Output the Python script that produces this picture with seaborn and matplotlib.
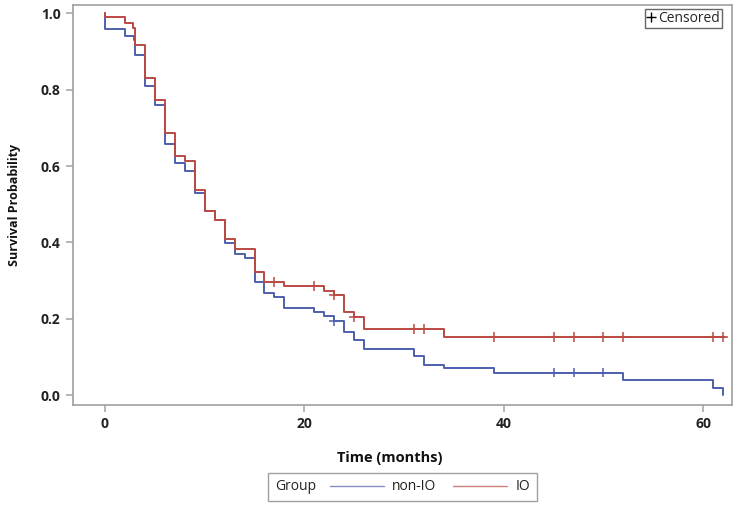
import numpy as np
import pandas as pd
import matplotlib.pyplot as plt
from matplotlib.lines import Line2D
from matplotlib.offsetbox import HPacker
import seaborn as sns

# Set up styling
sns.set_style('ticks')
plt.rcParams['font.family'] = ['Open Sans', 'DejaVu Sans']

# === DATA ===
groups = ['non-IO', 'IO']
colors = ['#4e5fae', '#bb4a44']

nonio_time = [0, 0, 2, 2.9, 3, 4, 5, 6, 7, 8, 9, 10, 11, 12, 13, 14, 15, 16, 17, 18,
              21, 22, 23, 24, 25, 26, 31, 32, 34, 39, 52, 61, 62]
nonio_surv = [1.0, 0.958, 0.942, 0.931, 0.89, 0.809, 0.759, 0.659, 0.609, 0.587, 0.530,
              0.482, 0.458, 0.399, 0.369, 0.358, 0.297, 0.268, 0.257, 0.227, 0.218, 0.207,
              0.194, 0.166, 0.144, 0.122, 0.102, 0.080, 0.070, 0.059, 0.039, 0.018, 0.0]
nonio_censor = [23, 45, 47, 50]

io_time = [0, 0, 2, 2.8, 3, 4, 5, 6, 7, 8, 9, 10, 11, 12, 13, 15, 16, 18, 22, 23, 24, 25,
           26, 34, 62.2]
io_surv = [1.0, 0.99, 0.976, 0.963, 0.916, 0.832, 0.772, 0.687, 0.626, 0.613, 0.538, 0.482,
           0.458, 0.408, 0.384, 0.323, 0.297, 0.286, 0.273, 0.262, 0.218, 0.205, 0.174,
           0.153, 0.153]
io_censor = [17, 21, 23, 25, 31, 32, 39, 45, 47, 50, 52, 61, 62]

x_ticks = [0, 20, 40, 60]
y_ticks = [0.0, 0.2, 0.4, 0.6, 0.8, 1.0]


def surv_at(times, surv, t):
    # value of the step curve right after time t
    idx = np.searchsorted(times, t, side='right') - 1
    return surv[idx]


# Build long-form tables
df = pd.concat([
    pd.DataFrame({'Time': nonio_time, 'Survival': nonio_surv, 'Group': 'non-IO'}),
    pd.DataFrame({'Time': io_time, 'Survival': io_surv, 'Group': 'IO'}),
], ignore_index=True)

df_cens = pd.concat([
    pd.DataFrame({'Time': nonio_censor,
                  'Survival': [surv_at(nonio_time, nonio_surv, t) for t in nonio_censor],
                  'Group': 'non-IO'}),
    pd.DataFrame({'Time': io_censor,
                  'Survival': [surv_at(io_time, io_surv, t) for t in io_censor],
                  'Group': 'IO'}),
], ignore_index=True)

palette = dict(zip(groups, colors))

# === PLOT ===
fig = plt.figure(figsize=(7.4, 5.07), dpi=100)
ax = fig.add_axes([73 / 740, 1 - 405 / 507, 659 / 740, 400 / 507])

sns.lineplot(data=df, x='Time', y='Survival', hue='Group', hue_order=groups,
             palette=palette, drawstyle='steps-post', sort=False, estimator=None,
             legend=False, linewidth=1.4, ax=ax)
sns.scatterplot(data=df_cens, x='Time', y='Survival', hue='Group', hue_order=groups,
                palette=palette, marker='+', s=50, linewidth=1.1, legend=False, ax=ax)

ax.set_xlim(-3.21, 62.9)
ax.set_ylim(-0.026, 1.022)
ax.set_xticks(x_ticks)
ax.set_yticks(y_ticks)
ax.set_yticklabels([f'{v:.1f}' for v in y_ticks])

for side in ['top', 'right', 'bottom', 'left']:
    ax.spines[side].set_color('#a0a0a0')
    ax.spines[side].set_linewidth(1.2)
ax.tick_params(direction='out', length=5, width=1.1, color='#a0a0a0',
               labelsize=10, labelcolor='#222222', pad=4)
for lab in ax.get_xticklabels() + ax.get_yticklabels():
    lab.set_fontweight('bold')

ax.set_xlabel('Time (months)', fontsize=10.5, fontweight='bold', color='#111111')
ax.set_ylabel('Survival Probability', fontsize=9, fontweight='bold', color='#111111')
ax.xaxis.set_label_coords(0.48, -0.115)
ax.yaxis.set_label_coords(-0.079, 0.5)

# Censored marker legend in the corner
cens_leg = ax.legend(handles=[Line2D([], [], marker='+', ls='', color='black',
                                     markersize=7, markeredgewidth=1.0)],
                     labels=['Censored'], loc='upper right',
                     bbox_to_anchor=(722 / 740, 1 - 9 / 507), bbox_transform=fig.transFigure,
                     borderaxespad=0, fancybox=False, edgecolor='#666666', framealpha=1,
                     handlelength=0.6, handletextpad=0.2, borderpad=0.15, fontsize=10)
cens_leg.get_frame().set_linewidth(1.0)

# Group legend at the bottom, title inline with the entries
handles = [Line2D([], [], color=c, linewidth=1.0, alpha=0.7) for c in colors]
leg = fig.legend(handles=handles, labels=groups, title='Group', ncol=2, loc='center',
                 bbox_to_anchor=(402.5 / 740, 1 - 487 / 507), fancybox=False,
                 edgecolor='#a0a0a0', framealpha=1, handlelength=3.9, handletextpad=0.6,
                 columnspacing=1.2, borderpad=0.45, fontsize=10, title_fontsize=10)
leg.get_frame().set_linewidth(1.0)
for t in leg.get_texts():
    t.set_color('#222222')
leg.get_title().set_color('#222222')
old_box = leg._legend_box
title_box, entry_box = old_box.get_children()
new_box = HPacker(pad=old_box.pad, sep=10, align='center', children=[title_box, entry_box])
new_box.set_figure(fig)
new_box.set_offset(leg._findoffset)
leg._legend_box = new_box

plt.savefig('out.png', dpi=100)
